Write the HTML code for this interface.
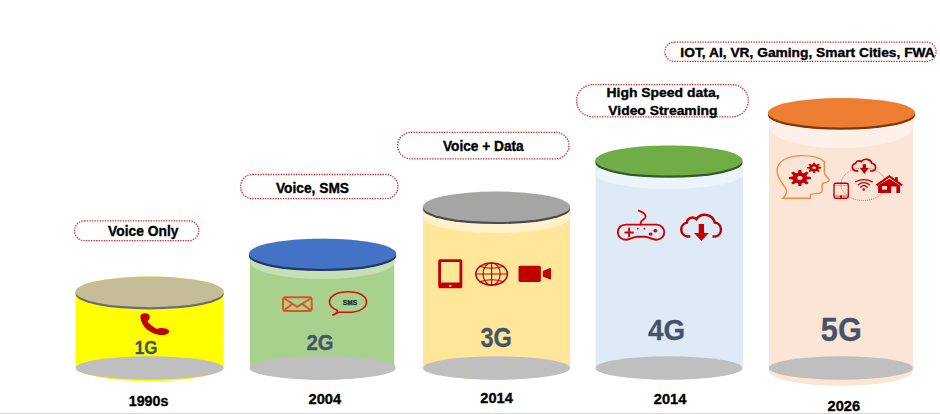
<!DOCTYPE html>
<html><head><meta charset="utf-8">
<style>
html,body{margin:0;padding:0;background:#fff;width:940px;height:414px;overflow:hidden}
svg{display:block}
text{font-family:"Liberation Sans",sans-serif;font-weight:bold}
</style></head><body>
<svg width="940" height="414" viewBox="0 0 940 414">
<rect x="0" y="413" width="940" height="1" fill="#d4d4d4"/>

<!-- ===== labels ===== -->
<g fill="none" stroke="#d02020" stroke-width="1.3" stroke-dasharray="1.3 1.25">
<rect x="74.5" y="220.8" width="124.3" height="19.9" rx="9.95"/>
<rect x="240.5" y="174.5" width="157.5" height="24.2" rx="12.1"/>
<rect x="397.7" y="132.3" width="171.3" height="26.5" rx="13.25"/>
<rect x="576.6" y="84.7" width="171.7" height="32.1" rx="16"/>
<rect x="664.8" y="42.1" width="271.3" height="19.3" rx="9.65"/>
</g>
<g fill="#000" stroke="#000" stroke-width="0.35">
<text x="108.11" y="235.9" font-size="14.53" textLength="70.37" lengthAdjust="spacingAndGlyphs">Voice Only</text>
<text x="275.91" y="193.2" font-size="14.53" textLength="73.12" lengthAdjust="spacingAndGlyphs">Voice, SMS</text>
<text x="442.91" y="150.9" font-size="14.10" textLength="80.81" lengthAdjust="spacingAndGlyphs">Voice + Data</text>
<text x="606.47" y="97.2" font-size="13.66" textLength="113.06" lengthAdjust="spacingAndGlyphs">High Speed data,</text>
<text x="608.31" y="115.4" font-size="13.66" textLength="109.22" lengthAdjust="spacingAndGlyphs">Video Streaming</text>
<text x="680.39" y="56.8" font-size="13.52" textLength="254.37" lengthAdjust="spacingAndGlyphs">IOT, AI, VR, Gaming, Smart Cities, FWA</text>
<text x="128.70" y="405.6" font-size="14.53" textLength="39.79" lengthAdjust="spacingAndGlyphs">1990s</text>
<text x="308.59" y="403.6" font-size="14.53" textLength="32.59" lengthAdjust="spacingAndGlyphs">2004</text>
<text x="480.39" y="403.0" font-size="14.53" textLength="32.48" lengthAdjust="spacingAndGlyphs">2014</text>
<text x="653.79" y="403.7" font-size="14.53" textLength="32.48" lengthAdjust="spacingAndGlyphs">2014</text>
<text x="827.59" y="410.7" font-size="14.53" textLength="32.54" lengthAdjust="spacingAndGlyphs">2026</text>
</g>

<!-- ===== cylinder 1 ===== -->
<g>
<ellipse cx="149.6" cy="366" rx="74.1" ry="15.3" fill="#ffff00"/>
<rect x="75.5" y="292" width="148.2" height="74" fill="#ffff00"/>
<ellipse cx="149.6" cy="368" rx="74.1" ry="11.7" fill="#bfbfbf"/>
<ellipse cx="149.6" cy="291.9" rx="74.25" ry="15.45" fill="#ffff00"/>
<ellipse cx="149.6" cy="294.1" rx="74.1" ry="15.3" fill="#6a6a7c"/>
<ellipse cx="149.6" cy="291.9" rx="74.1" ry="15.3" fill="#c4bd97"/>
</g>
<!-- ===== cylinder 2 ===== -->
<g>
<ellipse cx="322.3" cy="365" rx="72.3" ry="15" fill="#a9d18e"/>
<rect x="250" y="254" width="144.2" height="111" fill="#a9d18e"/>
<ellipse cx="322.3" cy="262" rx="72.3" ry="17" fill="#c5e0b4"/>
<ellipse cx="322.6" cy="368" rx="73.2" ry="11.7" fill="#bfbfbf"/>
<ellipse cx="322.6" cy="253.8" rx="73.75" ry="15.25" fill="#c5e0b4"/>
<ellipse cx="322.6" cy="256.0" rx="73.6" ry="15.1" fill="#1f3763"/>
<ellipse cx="322.6" cy="253.8" rx="73.6" ry="15.1" fill="#4472c4"/>
</g>
<!-- ===== cylinder 3 ===== -->
<g>
<ellipse cx="496.5" cy="365" rx="73.4" ry="15" fill="#ffe699"/>
<rect x="423.1" y="207" width="146.8" height="158" fill="#ffe699"/>
<ellipse cx="496.5" cy="217" rx="73.4" ry="16" fill="#fff2cc"/>
<ellipse cx="496.5" cy="368" rx="73.6" ry="11.7" fill="#bfbfbf"/>
<ellipse cx="496.5" cy="206.7" rx="73.75" ry="15.35" fill="#fff2cc"/>
<ellipse cx="496.5" cy="208.9" rx="73.6" ry="15.2" fill="#4a4a4a"/>
<ellipse cx="496.5" cy="206.7" rx="73.6" ry="15.2" fill="#a5a5a5"/>
</g>
<!-- ===== cylinder 4 ===== -->
<g>
<ellipse cx="669.2" cy="365" rx="73.6" ry="15" fill="#deebf7"/>
<rect x="595.6" y="161" width="147.3" height="204" fill="#deebf7"/>
<ellipse cx="669.2" cy="174" rx="73.6" ry="15" fill="#ebf3fb"/>
<ellipse cx="669" cy="368" rx="73.6" ry="11.7" fill="#bfbfbf"/>
<ellipse cx="668.9" cy="160.5" rx="73.75" ry="15.25" fill="#ebf3fb"/>
<ellipse cx="668.9" cy="162.7" rx="73.6" ry="15.1" fill="#385723"/>
<ellipse cx="668.9" cy="160.5" rx="73.6" ry="15.1" fill="#70ad47"/>
</g>
<!-- ===== cylinder 5 ===== -->
<g>
<ellipse cx="841" cy="371" rx="72" ry="15" fill="#fbe5d6"/>
<rect x="769" y="113" width="144" height="258" fill="#fbe5d6"/>
<ellipse cx="841" cy="127" rx="72" ry="21" fill="#fdf0e8"/>
<ellipse cx="841" cy="368" rx="72" ry="11.7" fill="#bfbfbf"/>
<ellipse cx="841.5" cy="112.8" rx="73.75" ry="14.95" fill="#fdf0e8"/>
<ellipse cx="841.5" cy="115.0" rx="73.6" ry="14.8" fill="#7a380c"/>
<ellipse cx="841.5" cy="112.8" rx="73.6" ry="14.8" fill="#ed7d31"/>
</g>

<!-- ===== G labels ===== -->
<g fill="#44546a" stroke="#44546a" stroke-width="0.3">
<text x="134.83" y="354.0" font-size="18.17" textLength="22.73" lengthAdjust="spacingAndGlyphs">1G</text>
<text x="306.50" y="350.4" font-size="22.24" textLength="27.06" lengthAdjust="spacingAndGlyphs">2G</text>
<text x="480.46" y="346.7" font-size="27.18" textLength="31.40" lengthAdjust="spacingAndGlyphs">3G</text>
<text x="648.08" y="340.1" font-size="30.23" textLength="37.15" lengthAdjust="spacingAndGlyphs">4G</text>
<text x="820.86" y="340.6" font-size="34.01" textLength="40.95" lengthAdjust="spacingAndGlyphs">5G</text>
</g>

<!-- ===== icons 1G: phone ===== -->
<path fill="#c00000" d="M140.3 316.5 C140.3 312.3 149.8 311.8 149.8 316.8 C149.8 319.5 147.8 320.8 147.5 321.5 C150 324.5 153.5 327.5 157 329 C160 327.5 166 327.5 169 330.5 C170 333.5 166 335.5 160 335 C150 333.5 141 327 140.3 316.5 Z"/>

<!-- ===== icons 2G ===== -->
<g fill="none" stroke="#e0522a" stroke-width="2" stroke-linejoin="round">
<rect x="283" y="297.2" width="28.7" height="13.9" rx="2.5"/>
<path d="M284.5 298.5 L297.1 306.8 L310.5 298.5"/>
<path d="M284.5 310 L292.5 303.8 M310.5 310 L302 303.8"/>
</g>
<g>
<path fill="none" stroke="#d81010" stroke-width="1.55" d="M337.5 310.5 C331 308 329.5 305 329.5 302 C329.5 295.5 337.5 291.8 348 291.8 C358.5 291.8 366.5 295.5 366.5 302 C366.5 308.5 358.5 312.3 348 312.3 C344 312.3 341 312 339 312.3 C336 313.5 334 314.8 332.3 315.3 C335 314 337.5 312.5 337.5 310.5 Z"/>
<text x="342.8" y="305.3" font-size="7.8" fill="#1a1a1a" stroke="#1a1a1a" stroke-width="0.25" textLength="14.3" lengthAdjust="spacingAndGlyphs">SMS</text>
</g>

<!-- ===== icons 3G ===== -->
<g fill="#c00000">
<path fill-rule="evenodd" d="M440 259.2 h20.5 a1.8 1.8 0 0 1 1.8 1.8 v25.5 a1.8 1.8 0 0 1 -1.8 1.8 h-20.5 a1.8 1.8 0 0 1 -1.8 -1.8 v-25.5 a1.8 1.8 0 0 1 1.8 -1.8 Z M441 262 v20.6 h18.5 v-20.6 Z"/>
<rect x="449" y="285" width="2.4" height="1.6" fill="#ffe699"/>
<rect x="518.5" y="265.8" width="22.4" height="16.1" rx="1.6"/>
<path d="M542.8 271 L550.2 268.1 Q551 268 551 268.8 L551 278.8 Q551 279.6 550.2 279.4 L542.8 276.6 Z"/>
</g>
<g fill="none" stroke="#c00000" stroke-width="1.2">
<ellipse cx="491.6" cy="274" rx="15.8" ry="11.1" stroke-width="1.55"/>
<ellipse cx="491.6" cy="274" rx="8.6" ry="11"/>
<path d="M491.6 263 V285 M476 274 H507.3"/>
<path d="M479 266 Q491.6 270.5 504.2 266"/>
<path d="M479 282 Q491.6 277.5 504.2 282"/>
</g>

<!-- ===== icons 4G ===== -->
<g fill="none" stroke="#d00000" stroke-width="2" stroke-linecap="round" stroke-linejoin="round">
<path stroke-width="1.9" d="M626 224.6 H656.3 C661.5 224.6 664.3 228.5 664.3 232.3 C664.3 236.5 660.5 239.8 656.3 239.8 C651.5 239.8 649 236.8 644.8 236.8 H637.2 C633 236.8 630.5 239.8 625.8 239.8 C621.5 239.8 617.8 236.5 617.8 232.3 C617.8 228.5 620.5 224.6 626 224.6 Z"/>
<path stroke-width="1.8" d="M638.8 210.6 C642.5 212 645.8 214 645.6 216.7 C645.4 219 641 220 640.8 222.5 V224.6"/>
<path d="M625.3 232.4 H632.9 M629.1 228.6 V236.2"/>
</g>
<g fill="#d00000">
<circle cx="637.8" cy="228.7" r="0.9"/><circle cx="644.3" cy="228.7" r="0.9"/>
<ellipse cx="655.3" cy="230.8" rx="2" ry="1.7"/><ellipse cx="650.6" cy="234.1" rx="2" ry="1.7"/>
</g>
<g fill="none" stroke="#c00000" stroke-width="2.5">
<path d="M690.3 236.4 H687.4 A7 7 0 0 1 686.8 222.6 A5.6 5.6 0 0 1 696.3 219.2 A10.3 10.3 0 0 1 714.8 222.6 A7.1 7.1 0 0 1 715.3 236.6 H712.5"/>
</g>
<path fill="#c00000" d="M698.7 224 H704.1 V233 H708.9 L701.4 240.9 L694 233 H698.7 Z"/>

<!-- ===== icons 5G ===== -->
<path fill="none" stroke="#ef8c42" stroke-width="1.4" d="M782.8 198.3 L810.4 198.3 L810.4 194.5 C814 193.5 818 193.8 820.5 192.8 C822.5 192 822.5 189.5 822 187.5 C821.8 186 822.5 185 822.3 183.5 C824 183 828.5 182 829.2 180.3 C829.5 179 825 175.5 824.5 173.5 C824 170 824.5 168 824.2 165 C824 163.5 825.2 162.5 824.3 161.5 C820 157.5 812 155.5 801.6 155.6 C788 155.8 777.5 161 777.1 170 C776.8 178 782 183 785.5 188 C787.5 191.5 786 195.5 782.8 198.3 Z"/>
<path fill="#c00000" fill-rule="evenodd" d="M797.92 172.64 L798.40 169.97 L801.40 169.97 L801.88 172.64 L803.69 173.19 L806.62 171.55 L808.73 173.09 L806.49 175.23 L807.24 176.56 L810.90 176.91 L810.90 179.09 L807.24 179.44 L806.49 180.77 L808.73 182.91 L806.62 184.45 L803.69 182.81 L801.88 183.36 L801.40 186.03 L798.40 186.03 L797.92 183.36 L796.11 182.81 L793.18 184.45 L791.07 182.91 L793.31 180.77 L792.56 179.44 L788.90 179.09 L788.90 176.91 L792.56 176.56 L793.31 175.23 L791.07 173.09 L793.18 171.55 L796.11 173.19 Z M797.20 178.00 a2.7 2.0 0 1 0 5.4 0 a2.7 2.0 0 1 0 -5.4 0 Z"/>
<path fill="#c00000" fill-rule="evenodd" d="M812.77 164.36 L813.10 162.67 L815.10 162.67 L815.43 164.36 L816.49 164.68 L818.37 163.66 L819.78 164.69 L818.38 166.05 L818.82 166.83 L821.13 167.07 L821.13 168.53 L818.82 168.77 L818.38 169.55 L819.78 170.91 L818.37 171.94 L816.49 170.92 L815.43 171.24 L815.10 172.93 L813.10 172.93 L812.77 171.24 L811.71 170.92 L809.83 171.94 L808.42 170.91 L809.82 169.55 L809.38 168.77 L807.07 168.53 L807.07 167.07 L809.38 166.83 L809.82 166.05 L808.42 164.69 L809.83 163.66 L811.71 164.68 Z M812.30 167.80 a1.8 1.3 0 1 0 3.6 0 a1.8 1.3 0 1 0 -3.6 0 Z"/>
<ellipse cx="863.5" cy="184.2" rx="22.6" ry="16.3" fill="none" stroke="#d04040" stroke-width="0.8" stroke-dasharray="1 1"/>
<rect x="834.5" y="195" width="13.5" height="2.6" fill="#e6a0a0"/>
<path d="M834.5 185.4 H848 M834.5 196.8 H848" stroke="#e8884a" stroke-width="0.7"/>
<rect x="840" y="195.5" width="2" height="2.2" fill="#c00000"/>
<g fill="none" stroke="#c00000" stroke-width="1.35">
<rect x="834" y="183.2" width="14.3" height="15.1" rx="1.8"/>
</g>
<path fill="none" stroke="#c00000" stroke-width="1.7" vector-effect="non-scaling-stroke" transform="translate(453.8 44.4) scale(0.585 0.535)" d="M691.5 236.4 H687.4 A7 7 0 0 1 686.8 222.6 A5.6 5.6 0 0 1 696.3 219.2 A10.3 10.3 0 0 1 714.8 222.6 A7.1 7.1 0 0 1 715.3 236.6 H711.5"/>
<path fill="#c00000" d="M862.6 164.2 H866 V168 H868.8 L864.3 173.9 L860 168 H862.6 Z"/>
<g fill="none" stroke="#c00000" stroke-width="1.3" stroke-linecap="round">
<path d="M855.6 181.8 Q863.9 177.4 872.3 181.8"/>
<path d="M858.3 184.7 Q863.9 180.4 869.5 184.7"/>
<path d="M860.8 187.2 Q863.9 183.8 867.1 187.2"/>
</g>
<circle cx="863.7" cy="189.5" r="1.3" fill="#c00000"/>
<g fill="#c00000">
<path d="M875.8 184.6 L889.3 175.1 L902.8 184.6 L901.5 186.2 L889.3 177.6 L877.1 186.2 Z"/>
<rect x="895.1" y="177.1" width="2.7" height="5"/>
<path d="M878.1 185.6 L889.3 178.8 L900.1 185.6 V193.1 H878.1 Z"/>
<rect x="882" y="186.1" width="5" height="3.5" fill="#fbe5d6"/>
<rect x="891.2" y="186.5" width="5.1" height="7" fill="#fbe5d6"/>
</g>
</svg>
</body></html>
